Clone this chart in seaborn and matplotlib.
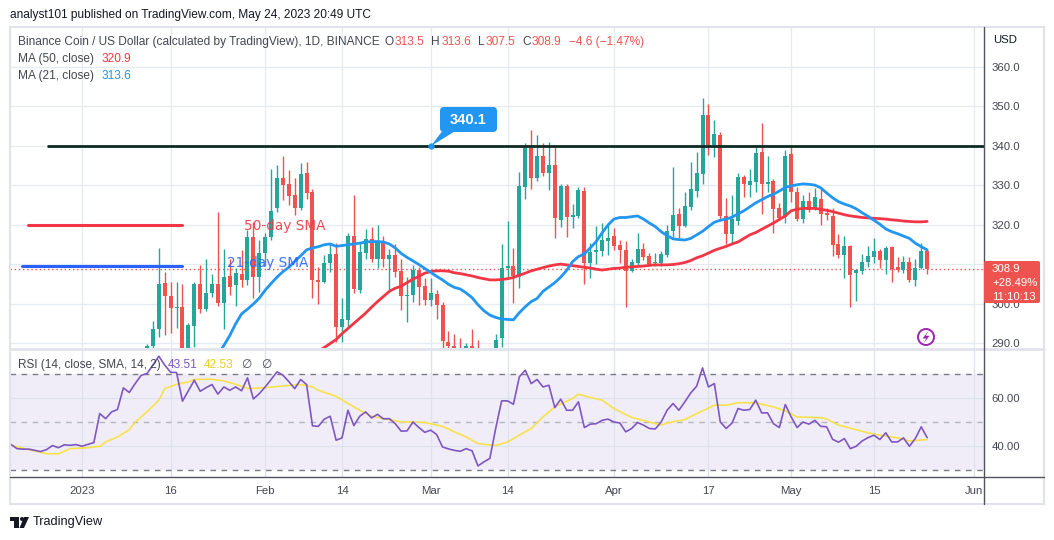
import numpy as np
import pandas as pd
import matplotlib
matplotlib.use("Agg")
import matplotlib.pyplot as plt
import matplotlib.dates as mdates
from matplotlib.lines import Line2D
from matplotlib.patches import Rectangle, FancyBboxPatch, Polygon, Circle
from matplotlib.transforms import IdentityTransform
from matplotlib.ticker import FormatStrFormatter, FuncFormatter
import seaborn as sns

# ---------------- data ----------------
# daily BNB/USD candles, 12 Jan 2023 .. 24 May 2023
candle_start = "2023-01-12"
opens = [
    # Jan 12-31
    284.0, 289.3, 293.6, 305.4, 302.0, 299.0, 299.2, 287.0, 294.5, 305.0,
    298.7, 302.9, 305.0, 300.2, 307.1, 304.8, 307.7, 306.1, 317.0, 306.9,
    # Feb
    313.0, 317.0, 324.2, 332.0, 330.4, 327.5, 324.3, 333.2, 328.3, 306.1,
    305.6, 310.3, 312.7, 294.3, 295.9, 317.3, 303.5, 312.8, 316.4, 311.5,
    315.5, 311.3, 312.4, 308.3, 302.1, 302.3, 308.6, 304.5,
    # Mar
    301.0, 302.6, 299.7, 290.5, 289.4, 288.9, 288.5, 289.3, 288.2, 283.0,
    281.0, 283.5, 291.5, 309.1, 309.5, 306.9, 329.7, 339.4, 331.8, 337.5,
    333.1, 335.2, 321.3, 329.9, 322.1, 322.3, 328.6, 310.5, 313.2, 313.5, 316.0,
    # Apr
    317.1, 314.9, 313.7, 308.4, 310.5, 313.9, 312.2, 310.3, 310.5, 312.4,
    318.5, 322.8, 319.8, 324.6, 328.7, 332.9, 347.9, 340.3, 342.8, 322.3,
    317.7, 321.1, 332.2, 330.1, 331.0, 338.6, 330.4, 331.2, 324.2, 321.9,
    # May 1-24
    338.0, 328.4, 321.5, 326.1, 324.1, 326.7, 323.1, 322.3, 315.1, 312.4,
    314.7, 307.8, 308.4, 310.7, 312.0, 313.4, 311.1, 314.5, 309.4, 308.6,
    310.7, 306.1, 309.0, 313.5,
]
highs = [
    289.8, 295.7, 314.2, 308.0, 305.6, 305.5, 305.0, 295.3, 305.5, 309.8,
    311.5, 307.7, 323.4, 313.8, 311.3, 309.0, 313.7, 318.7, 320.8, 316.2,
    318.0, 334.1, 335.3, 337.5, 333.9, 331.8, 335.8, 336.0, 329.0, 309.4,
    312.4, 315.3, 315.4, 301.5, 317.9, 327.6, 315.5, 319.0, 319.4, 320.0,
    317.2, 313.9, 315.1, 311.5, 306.9, 309.9, 309.4, 306.5,
    306.7, 303.5, 300.5, 293.2, 292.4, 291.3, 290.0, 293.6, 291.0, 287.5,
    287.0, 292.4, 315.2, 321.1, 314.3, 333.5, 340.7, 344.0, 342.8, 340.7,
    340.9, 339.7, 330.5, 330.5, 325.3, 329.5, 329.5, 315.4, 319.8, 320.6, 320.4,
    319.2, 316.2, 316.0, 311.3, 317.9, 315.4, 312.8, 312.8, 313.5, 320.0,
    334.6, 324.2, 328.4, 336.0, 338.4, 352.1, 350.6, 346.6, 343.6, 326.8,
    327.6, 333.2, 332.7, 334.1, 340.0, 345.9, 337.5, 331.6, 325.5, 339.0,
    340.0, 329.5, 327.6, 328.3, 329.3, 329.3, 324.2, 324.2, 317.6, 317.2,
    314.9, 308.8, 312.6, 314.7, 316.6, 313.8, 314.8, 314.7, 312.0, 312.1,
    312.0, 311.3, 315.4, 313.6,
]
lows = [
    281.5, 287.0, 291.7, 292.1, 292.7, 293.8, 284.0, 285.5, 289.2, 297.6,
    298.3, 301.8, 299.6, 293.6, 302.3, 299.6, 304.4, 304.8, 301.4, 303.1,
    309.5, 316.2, 323.4, 326.3, 325.0, 322.5, 323.8, 326.7, 301.4, 299.9,
    305.2, 308.0, 290.5, 290.5, 294.3, 302.7, 302.7, 311.5, 310.7, 309.0,
    309.4, 303.5, 306.9, 298.5, 295.5, 300.6, 299.7, 299.7,
    299.5, 296.2, 288.0, 288.5, 287.5, 287.0, 286.5, 286.0, 280.0, 276.0,
    270.0, 282.0, 289.2, 306.5, 300.2, 304.0, 326.7, 329.0, 331.2, 332.4,
    328.9, 316.6, 319.6, 317.0, 319.2, 321.7, 305.1, 306.5, 310.0, 312.2, 312.3,
    313.7, 310.3, 299.3, 308.0, 309.9, 311.1, 309.6, 309.6, 309.5, 312.0,
    317.0, 316.6, 319.6, 323.8, 327.2, 330.4, 337.6, 337.3, 320.9, 315.2,
    315.5, 320.0, 327.2, 327.2, 328.4, 322.8, 328.4, 318.0, 321.3, 320.6,
    325.7, 321.0, 320.4, 323.4, 323.8, 320.0, 321.3, 312.2, 311.7, 306.5,
    299.3, 300.8, 307.6, 309.4, 310.5, 309.0, 307.5, 305.6, 308.0, 307.9,
    305.6, 304.6, 308.8, 307.5,
]
closes = [
    289.3, 293.6, 305.0, 302.0, 298.9, 299.3, 287.0, 294.7, 305.0, 298.7,
    302.9, 305.0, 300.2, 306.9, 304.4, 307.9, 306.1, 317.0, 306.9, 313.0,
    317.0, 323.5, 332.0, 330.2, 327.4, 324.2, 333.0, 328.2, 306.0, 305.6,
    310.3, 312.6, 294.3, 296.1, 317.3, 303.8, 313.1, 316.4, 311.3, 315.8,
    311.3, 312.4, 308.2, 302.1, 302.4, 308.6, 304.4, 301.0,
    302.7, 299.7, 290.7, 289.4, 288.4, 288.5, 289.3, 288.0, 283.0, 281.0,
    283.5, 291.0, 309.1, 309.5, 307.2, 329.9, 339.4, 331.8, 337.5, 333.1,
    335.2, 321.7, 329.9, 322.1, 322.5, 328.9, 310.5, 313.1, 313.7, 316.2, 316.8,
    314.8, 313.7, 308.4, 310.6, 313.9, 312.0, 310.1, 310.7, 312.6, 318.5,
    322.5, 319.8, 324.8, 329.1, 333.1, 347.9, 340.3, 343.0, 322.3, 317.7,
    321.4, 332.2, 330.4, 331.2, 338.3, 330.4, 331.0, 324.0, 321.7, 337.5,
    328.4, 321.5, 326.1, 323.8, 327.0, 322.8, 322.5, 314.9, 312.4, 314.7,
    307.3, 308.6, 310.7, 312.1, 313.4, 311.1, 314.2, 308.9, 308.6, 310.7,
    306.1, 309.2, 313.5, 308.9,
]

last_day = "2023-05-24"

# MA (21, close), daily values ending on the last day
ma21 = [
    284.5, 287.0, 289.5, 292.0, 295.0, 297.5, 298.7, 300.0, 301.5, 303.5,
    305.2, 306.8, 308.2, 309.3, 310.8, 312.2, 313.7, 314.2, 314.5, 315.0,
    315.2, 314.6, 314.8, 315.0, 315.2, 315.4, 315.7, 315.8, 315.8, 315.7,
    315.2, 314.2, 312.8, 311.8, 310.9, 310.0, 309.0, 308.0, 307.0, 306.1,
    305.0, 304.2, 303.8, 302.8, 301.6, 299.8, 298.3, 297.2, 296.6, 296.2,
    296.1, 296.0, 297.8, 299.3, 300.6, 301.4, 303.2, 304.3, 305.4, 306.8,
    308.5, 310.7, 312.0, 312.7, 314.2, 315.8, 318.0, 320.0, 321.5, 321.9,
    321.9, 322.1, 322.3, 321.5, 320.5, 319.6, 318.3, 317.3, 316.5, 316.3,
    316.2, 316.6, 317.5, 318.4, 319.6, 320.7, 321.2, 321.5, 322.0, 322.8,
    323.6, 324.6, 325.6, 326.4, 327.2, 327.8, 328.6, 329.5, 329.9, 330.2,
    330.4, 330.3, 330.1, 329.4, 328.1, 326.9, 325.9, 325.3, 324.8, 324.1,
    323.1, 322.2, 321.2, 320.2, 319.0, 318.3, 317.8, 317.2, 316.6, 315.4,
    314.5, 313.7,
]
# MA (50, close), daily values ending on the last day
ma50 = [
    288.0, 289.0, 290.0, 291.0, 292.5, 293.8, 295.1, 296.4, 297.7, 299.2,
    300.6, 301.9, 303.2, 304.0, 304.5, 305.4, 306.3, 307.0, 307.8, 308.2,
    308.4, 308.4, 308.3, 307.9, 307.7, 307.4, 307.1, 306.7, 306.4, 306.1,
    306.1, 306.2, 306.4, 306.7, 307.3, 307.8, 308.4, 308.8, 309.2, 309.6,
    309.9, 310.1, 309.9, 309.7, 309.5, 309.3, 309.1, 308.8, 308.6, 308.8,
    309.0, 309.1, 309.3, 309.4, 309.5, 309.6, 309.8, 309.9, 309.9, 309.9,
    310.0, 310.2, 310.5, 311.0, 311.7, 312.2, 312.9, 313.6, 314.1, 314.6,
    315.2, 315.7, 316.6, 317.5, 318.1, 318.9, 319.7, 320.5, 321.4, 322.3,
    323.6, 324.0, 324.2, 324.2, 324.2, 324.0, 323.7, 323.4, 323.0, 322.6,
    322.3, 322.1, 321.9, 321.8, 321.7, 321.6, 321.5, 321.3, 321.2, 321.0,
    320.9, 320.8, 320.8, 320.9,
]

# RSI (14), daily values ending on the last day
rsi = [
    40.7, 39.0, 38.8, 38.8, 38.3, 37.8, 38.6, 40.3, 39.4, 40.6,
    40.4, 40.7, 40.0, 40.8, 41.5, 53.6, 51.5, 54.3, 55.3, 64.3,
    62.4, 66.1, 69.5, 70.3, 73.8, 77.5, 73.8, 70.8, 70.7, 58.8,
    63.1, 67.5, 62.9, 64.4, 65.7, 61.7, 64.7, 63.3, 64.7, 63.1,
    68.5, 59.7, 61.9, 64.7, 67.8, 71.0, 69.6, 66.9, 64.0, 67.8,
    65.7, 48.5, 48.3, 51.3, 52.5, 42.5, 43.5, 55.0, 48.6, 52.5,
    54.3, 51.8, 53.3, 51.4, 51.5, 49.4, 46.3, 46.4, 50.1, 47.8,
    45.8, 46.7, 44.9, 39.7, 38.9, 38.3, 37.9, 39.0, 38.1, 31.8,
    33.5, 34.9, 47.4, 58.9, 58.9, 57.5, 68.9,
    71.7, 66.1, 67.8, 64.7, 65.4, 56.1, 59.6, 55.0, 55.0, 58.5,
    47.8, 49.2, 49.4, 50.8, 51.3, 50.1, 49.7, 46.0, 47.4, 49.9,
    48.8, 47.4, 47.2, 50.1, 55.0, 57.8, 55.0, 58.5, 62.2, 65.0,
    72.6, 64.7, 66.1, 50.1, 47.4, 49.7, 55.7, 55.0, 55.3, 59.2,
    53.9, 53.9, 49.4, 47.8, 57.4, 52.2, 47.8, 50.1, 49.2, 50.8,
    48.3, 48.1, 42.9, 41.7, 43.2, 39.0, 40.0, 42.2, 43.6, 44.6,
    42.8, 45.6, 41.8, 41.8, 43.5, 40.0, 43.2, 48.1, 43.6,
]
# SMA (14) of RSI, read at these days counted from 1 Jan 2023
rsi_sma_days = [
    -12, -9, -6, -4, -2, 1, 3, 4, 6, 8, 9, 11, 13, 14, 16, 18, 19, 22, 24, 26,
    28, 31, 34, 37, 39, 40, 43, 45, 47, 49, 52, 54, 56, 58, 61, 63, 65, 67, 70, 72,
    74, 76, 78, 80, 83, 84, 86, 88, 90, 93, 96, 98, 99, 102, 104, 107, 109, 111, 114, 117,
    119, 121, 125, 126, 128, 131, 133, 135, 138, 140, 143,
]
rsi_sma = [
    40.4, 38.6, 36.9, 36.9, 39.0, 39.4, 40.0, 41.8, 43.9, 46.9,
    50.1, 54.3, 59.2, 64.0, 65.8, 66.8, 67.8, 67.9, 67.2, 65.8,
    64.0, 64.4, 65.1, 65.7, 64.7, 63.3, 60.8, 57.8, 55.0, 52.5,
    51.1, 50.1, 50.1, 49.9, 48.3, 46.0, 43.9, 41.1, 40.3, 41.8,
    44.6, 47.4, 52.2, 56.4, 59.9, 61.7, 60.3, 59.2, 55.7, 52.0,
    50.1, 48.8, 49.7, 51.1, 53.6, 57.1, 57.1, 58.1, 58.1, 56.4,
    54.7, 52.2, 51.9, 51.3, 48.8, 46.9, 45.6, 44.6, 43.5, 42.2,
    42.8,
]

resistance = 340.1
resistance_start = "2022-12-26"
resistance_label_day = "2023-03-01"
last_close = 308.9

tick_dates = ["2023-01-01", "2023-01-16", "2023-02-01", "2023-02-14", "2023-03-01",
              "2023-03-14", "2023-04-01", "2023-04-17", "2023-05-01", "2023-05-15",
              "2023-06-01"]
tick_labels = ["2023", "16", "Feb", "14", "Mar", "14", "Apr", "17", "May", "15", "Jun"]
price_ticks = [290, 300, 310, 320, 330, 340, 350, 360]
hidden_price_tick = 310  # covered by the last-price tag
rsi_ticks = [40, 60]

# ---------------- styling ----------------
UP = "#26a69a"
DOWN = "#ef5350"
MA50_C = "#f23645"
MA21_C = "#2196f3"
RSI_C = "#7e57c2"
SMA_C = "#f7e24a"
GRID = "#e6ebf2"
TXT = "#434651"
FRAME = "#e0e3eb"
AXIS = "#50535e"

sns.set_theme(style="white")
plt.rcParams["font.family"] = ["Liberation Sans", "DejaVu Sans"]

W, H = 1054, 540
fig = plt.figure(figsize=(W / 100, H / 100), dpi=100, facecolor="white")
renderer = fig.canvas.get_renderer()


def fx(px):
    return px / W


def fy(py):
    return 1 - py / H


def put(x, y, s, size=9, color=TXT, ha="left", width=None, **kw):
    t = fig.text(fx(x), fy(y), s, fontsize=size, color=color, ha=ha, va="center", **kw)
    if width:
        w = t.get_window_extent(renderer).width
        t.set_fontsize(size * width / w)
    return t


def px_line(x0, y0, x1, y1, color, lw, **kw):
    fig.add_artist(Line2D([fx(x0), fx(x1)], [fy(y0), fy(y1)], color=color, lw=lw,
                          transform=fig.transFigure, **kw))


ax = fig.add_axes([fx(10), fy(348), fx(984) - fx(10), fy(28) - fy(348)])
ax_rsi = fig.add_axes([fx(10), fy(477), fx(984) - fx(10), fy(349) - fy(477)])

jan1 = mdates.date2num(pd.Timestamp("2023-01-01"))
xlim = (jan1 + (10 - 82) / 5.91, jan1 + (984 - 82) / 5.91)
tx = mdates.date2num(pd.to_datetime(tick_dates))

# ---------------- price pane ----------------
candles = pd.DataFrame({"open": opens, "high": highs, "low": lows, "close": closes},
                       index=pd.date_range(candle_start, periods=len(closes)))
cx = mdates.date2num(candles.index)
colors = np.where(candles["close"] >= candles["open"], UP, DOWN)
ax.vlines(cx, candles["low"], candles["high"], colors=colors, lw=1, zorder=2)
body = (candles["close"] - candles["open"]).abs().clip(lower=0.3)
ax.bar(cx, body, bottom=candles[["open", "close"]].min(axis=1), width=0.68,
       color=colors, lw=0, zorder=3)

ma21_df = pd.DataFrame({"x": mdates.date2num(pd.date_range(end=last_day, periods=len(ma21))),
                        "v": ma21})
ma50_df = pd.DataFrame({"x": mdates.date2num(pd.date_range(end=last_day, periods=len(ma50))),
                        "v": ma50})
sns.lineplot(data=ma50_df, x="x", y="v", ax=ax, color=MA50_C, lw=2, zorder=4)
sns.lineplot(data=ma21_df, x="x", y="v", ax=ax, color=MA21_C, lw=2, zorder=4)

ax.axhline(last_close, color=DOWN, lw=1, ls=(0, (1, 2)), zorder=1)
r0 = mdates.date2num(pd.Timestamp(resistance_start))
ax.hlines(resistance, r0, xlim[1], color="#0b2b22", lw=2, zorder=5)
rl = mdates.date2num(pd.Timestamp(resistance_label_day))
ax.plot([rl], [resistance], "o", ms=3.5, color=MA21_C, zorder=6)

ax.set_xlim(*xlim)
ax.set_ylim(288.86, 369.87)
ax.set_xticks(tx)
ax.set_yticks(price_ticks)
ax.yaxis.tick_right()
ax.yaxis.set_major_formatter(
    FuncFormatter(lambda v, p: "" if abs(v - hidden_price_tick) < 0.01 else f"{v:.1f}"))
ax.tick_params(axis="y", length=0, pad=5.5, labelsize=8.2, labelcolor=TXT)
ax.tick_params(axis="x", length=0, labelbottom=False)
ax.grid(True, color=GRID, lw=1)
ax.set_axisbelow(True)
ax.set_xlabel("")
ax.set_ylabel("")
for s in ax.spines.values():
    s.set_visible(False)

# ---------------- RSI pane ----------------
ax_rsi.axhspan(30, 70, color=RSI_C, alpha=0.1, lw=0, zorder=0)
ax_rsi.axhline(70, color="#787b86", lw=1, ls=(0, (4, 4)), zorder=1)
ax_rsi.axhline(30, color="#787b86", lw=1, ls=(0, (4, 4)), zorder=1)
ax_rsi.axhline(50, color="#b2b5be", lw=1, ls=(0, (4, 4)), zorder=1)

rsi_df = pd.DataFrame({"x": mdates.date2num(pd.date_range(end=last_day, periods=len(rsi))),
                       "v": rsi})
sma_df = pd.DataFrame({"x": jan1 + np.array(rsi_sma_days, dtype=float), "v": rsi_sma})
sns.lineplot(data=sma_df, x="x", y="v", ax=ax_rsi, color=SMA_C, lw=1.2, zorder=3)
sns.lineplot(data=rsi_df, x="x", y="v", ax=ax_rsi, color=RSI_C, lw=1.2, zorder=4)

ax_rsi.set_xlim(*xlim)
ax_rsi.set_ylim(27.2, 80.5)
ax_rsi.set_xticks(tx)
ax_rsi.set_xticklabels(tick_labels)
ax_rsi.set_yticks(rsi_ticks)
ax_rsi.yaxis.tick_right()
ax_rsi.yaxis.set_major_formatter(FormatStrFormatter("%.2f"))
ax_rsi.tick_params(axis="y", length=0, pad=5.5, labelsize=8.2, labelcolor=TXT)
ax_rsi.tick_params(axis="x", length=0, pad=6.5, labelsize=8.2, labelcolor=TXT)
ax_rsi.grid(True, color="#dde3ee", lw=1)
ax_rsi.set_axisbelow(True)
ax_rsi.set_xlabel("")
ax_rsi.set_ylabel("")
for s in ax_rsi.spines.values():
    s.set_visible(False)

# ---------------- frame ----------------
fig.add_artist(Rectangle((fx(9.5), fy(504)), fx(1044) - fx(9.5), fy(27) - fy(504),
                         fill=False, ec=FRAME, lw=1.5, transform=fig.transFigure))
px_line(10, 348.5, 1044, 348.5, FRAME, 2)
px_line(984, 27, 984, 504, AXIS, 1)
px_line(10, 477, 1044, 477, AXIS, 1)

# ---------------- texts ----------------
put(10, 15, "analyst101 published on TradingView.com, May 24, 2023 20:49 UTC",
    size=9.5, color="#131722", width=363)

head = put(18, 42, "Binance Coin / US Dollar (calculated by TradingView), 1D, BINANCE",
           size=9, width=365)
hs = head.get_fontsize()
x = 18 + head.get_window_extent(renderer).width + 5
for label, value in [("O", "313.5"), ("H", "313.6"), ("L", "307.5"), ("C", "308.9"),
                     ("", "\u22124.6 (\u22121.47%)")]:
    if label:
        t = put(x, 42, label, size=hs)
        x += t.get_window_extent(renderer).width + 1
    t = put(x, 42, value, size=hs, color=DOWN)
    x += t.get_window_extent(renderer).width + 7

t = put(18, 59, "MA (50, close)", size=hs)
put(18 + t.get_window_extent(renderer).width + 8, 59, "320.9", size=hs, color=MA50_C)
t = put(18, 76, "MA (21, close)", size=hs)
put(18 + t.get_window_extent(renderer).width + 8, 76, "313.6", size=hs, color=MA21_C)

put(18, 365, "RSI (14, close, SMA, 14, 2)", size=hs, width=141)
put(168, 365, "43.51", size=hs, color=RSI_C)
put(204, 365, "42.53", size=hs, color="#e8cf2a")
put(241, 365, "\u2205", size=hs, family=["DejaVu Sans"])
put(261, 365, "\u2205", size=hs, family=["DejaVu Sans"])

put(993, 40, "USD", size=8.2, color="#131722")

# SMA legend drawn on the chart
px_line(28, 225.3, 182, 225.3, MA50_C, 2.2, solid_capstyle="round")
px_line(22, 265.7, 182, 265.7, "#2962ff", 2.2, solid_capstyle="round")
put(244, 226, "50-day SMA", size=10, color=MA50_C, width=81, alpha=0.9,
    family=["DejaVu Sans"], zorder=10)
put(227, 263, "21-day SMA", size=10, color="#2962ff", width=81, alpha=0.9,
    family=["DejaVu Sans"], zorder=10)

# resistance callout
idt = IdentityTransform()
fig.add_artist(Polygon([(443, H - 130), (457, H - 130), (431, H - 146)], closed=True,
                       fc=MA21_C, ec="none", transform=idt))
fig.add_artist(FancyBboxPatch((440, H - 132), 57, 25, boxstyle="round,pad=0,rounding_size=4",
                              fc=MA21_C, ec="none", transform=idt))
put(468.5, 119.5, "340.1", size=10.5, color="white", ha="center", weight="bold")

# last price tag
fig.add_artist(FancyBboxPatch((984, H - 303), 56, 42, boxstyle="round,pad=0,rounding_size=2",
                              fc=DOWN, ec="none", transform=idt, zorder=20))
for yy, s in [(269, "308.9"), (283, "+28.49%"), (297, "11:10:13")]:
    put(992, yy, s, size=8.2, color="white", zorder=21)

# lightning icon
fig.add_artist(Circle((926, H - 337), 8, fc="white", ec="#9c27b0", lw=1.4, transform=idt))
fig.add_artist(Polygon([(928.5, H - 331), (922.5, H - 338.5), (926.2, H - 338.5),
                        (923.5, H - 343.5), (929.5, H - 335.8), (925.8, H - 335.8)],
                       closed=True, fc="#9c27b0", ec="none", transform=idt))

# TradingView logo
fig.add_artist(Rectangle((10, H - 521), 9, 4, fc="#131722", ec="none", transform=idt))
fig.add_artist(Rectangle((14, H - 528), 5, 11, fc="#131722", ec="none", transform=idt))
fig.add_artist(Circle((22, H - 519), 2, fc="#131722", ec="none", transform=idt))
fig.add_artist(Polygon([(24, H - 517), (29, H - 517), (24, H - 528), (19.5, H - 528)],
                       closed=True, fc="#131722", ec="none", transform=idt))
put(33, 522, "TradingView", size=10.5, color="#131722", width=71)

fig.savefig("out.png", dpi=100, facecolor="white")
